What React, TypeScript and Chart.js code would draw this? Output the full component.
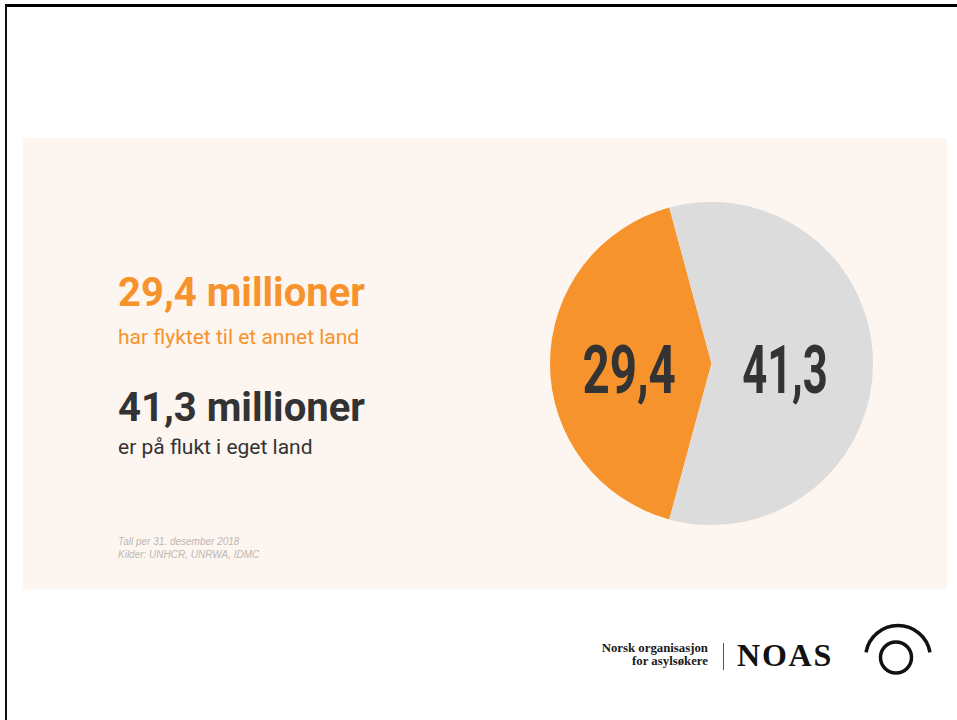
import React, { useEffect, useRef } from "react";
import { Chart, registerables } from "chart.js";

Chart.register(...registerables);

// ---- data ----
const categories = ["har flyktet til et annet land", "er på flukt i eget land"];
const values = [29.4, 41.3];
const valueLabels = ["29,4", "41,3"];
const unitLabel = "millioner";
const notes = ["Tall per 31. desember 2018", "Kilder: UNHCR, UNRWA, IDMC"];

// ---- styles ----
const sliceColors = ["#f7932c", "#dcdcdc"];
const textColors = ["#f7932c", "#333333"];
const labelRadial = [0.51, 0.455];
const labelScaleX = [0.72, 0.66];
const PANEL_BG = "#fdf5ef";
const SANS = "Roboto, 'Liberation Sans', Arial, sans-serif";
const SERIF = "'Liberation Serif', 'DejaVu Serif', 'Times New Roman', serif";

const sliceLabelPlugin = {
  id: "sliceLabels",
  afterDatasetsDraw(chart: any) {
    const ctx = chart.ctx;
    const meta = chart.getDatasetMeta(0);
    meta.data.forEach((arc: any, i: number) => {
      const { x, y, startAngle, endAngle, outerRadius } = arc.getProps(
        ["x", "y", "startAngle", "endAngle", "outerRadius"],
        true
      );
      const mid = (startAngle + endAngle) / 2;
      const px = x + Math.cos(mid) * outerRadius * labelRadial[i];
      const py = y + Math.sin(mid) * outerRadius * labelRadial[i];
      ctx.save();
      ctx.translate(px, py + 29.5);
      ctx.scale(labelScaleX[i], 1);
      ctx.font = `700 66px ${SANS}`;
      ctx.fillStyle = "#333333";
      ctx.textAlign = "center";
      ctx.textBaseline = "alphabetic";
      ctx.fillText(valueLabels[i], 0, 0);
      ctx.restore();
    });
  },
};

function PieChart() {
  const ref = useRef<HTMLCanvasElement | null>(null);
  useEffect(() => {
    if (!ref.current) return;
    const total = values.reduce((a, b) => a + b, 0);
    const firstSpan = (values[0] / total) * 360;
    const chart = new Chart(ref.current, {
      type: "pie",
      data: {
        labels: categories,
        datasets: [
          {
            data: values,
            backgroundColor: sliceColors,
            borderWidth: 0,
            hoverOffset: 0,
            offset: 0,
          } as any,
        ],
      },
      options: {
        responsive: true,
        maintainAspectRatio: false,
        animation: false,
        events: [],
        rotation: 270 - firstSpan / 2,
        layout: { padding: 0 },
        plugins: {
          legend: { display: false },
          tooltip: { enabled: false },
        },
      } as any,
      plugins: [sliceLabelPlugin],
    });
    return () => chart.destroy();
  }, []);
  return (
    <div style={{ position: "absolute", left: 550, top: 202, width: 323, height: 323 }}>
      <canvas ref={ref} />
    </div>
  );
}

export default function App() {
  const abs = (o: React.CSSProperties): React.CSSProperties => ({
    position: "absolute",
    whiteSpace: "nowrap",
    margin: 0,
    ...o,
  });
  return (
    <div
      style={{
        position: "fixed",
        left: 0,
        top: 0,
        width: 957,
        height: 720,
        overflow: "hidden",
        background: "#ffffff",
      }}
    >
      {/* frame */}
      <div
        style={abs({
          left: 5,
          top: 4,
          width: 1000,
          height: 800,
          borderTop: "3px solid #000",
          borderLeft: "2px solid #111",
        })}
      />
      {/* panel */}
      <div style={abs({ left: 23, top: 138, width: 924, height: 451, background: PANEL_BG })} />

      {/* headline texts */}
      <div
        style={abs({
          left: 118,
          top: 273,
          fontFamily: SANS,
          fontWeight: 700,
          fontSize: 40,
          lineHeight: "40px",
          color: textColors[0],
        })}
      >
        {valueLabels[0]} {unitLabel}
      </div>
      <div
        style={abs({
          left: 118,
          top: 327,
          fontFamily: SANS,
          fontWeight: 400,
          fontSize: 21,
          lineHeight: "21px",
          color: textColors[0],
        })}
      >
        {categories[0]}
      </div>
      <div
        style={abs({
          left: 118,
          top: 388,
          fontFamily: SANS,
          fontWeight: 700,
          fontSize: 40,
          lineHeight: "40px",
          color: textColors[1],
        })}
      >
        {valueLabels[1]} {unitLabel}
      </div>
      <div
        style={abs({
          left: 118,
          top: 437,
          fontFamily: SANS,
          fontWeight: 400,
          fontSize: 21,
          lineHeight: "21px",
          color: textColors[1],
        })}
      >
        {categories[1]}
      </div>

      {/* notes */}
      <div
        style={abs({
          left: 118,
          top: 535,
          fontFamily: "'Liberation Sans', Arial, sans-serif",
          fontStyle: "italic",
          fontSize: 10,
          lineHeight: "13px",
          color: "#bdb7b3",
        })}
      >
        {notes.map((n) => (
          <div key={n}>{n}</div>
        ))}
      </div>

      <PieChart />

      {/* logo */}
      <div
        style={abs({
          right: 957 - 708,
          top: 642,
          fontFamily: SERIF,
          fontWeight: 700,
          fontSize: 12.8,
          lineHeight: "13px",
          color: "#1a1a1a",
          textAlign: "right",
        })}
      >
        <div>Norsk organisasjon</div>
        <div>for asylsøkere</div>
      </div>
      <div style={abs({ left: 723, top: 643, width: 1, height: 27, background: "#555" })} />
      <div
        style={abs({
          left: 737,
          top: 639,
          fontFamily: SERIF,
          fontWeight: 700,
          fontSize: 32,
          lineHeight: "32px",
          letterSpacing: "1.8px",
          color: "#111",
        })}
      >
        NOAS
      </div>
      <svg
        width={957}
        height={720}
        style={{ position: "absolute", left: 0, top: 0, pointerEvents: "none" }}
      >
        <circle cx={896} cy={657.5} r={15.5} fill="none" stroke="#111" strokeWidth={3.5} />
        <path
          d={`M ${898 + 32.5 * Math.cos((190 * Math.PI) / 180)} ${658 + 32.5 * Math.sin((190 * Math.PI) / 180)} A 32.5 32.5 0 0 1 ${898 + 32.5 * Math.cos((350 * Math.PI) / 180)} ${658 + 32.5 * Math.sin((350 * Math.PI) / 180)}`}
          fill="none"
          stroke="#111"
          strokeWidth={3.5}
        />
      </svg>
    </div>
  );
}
